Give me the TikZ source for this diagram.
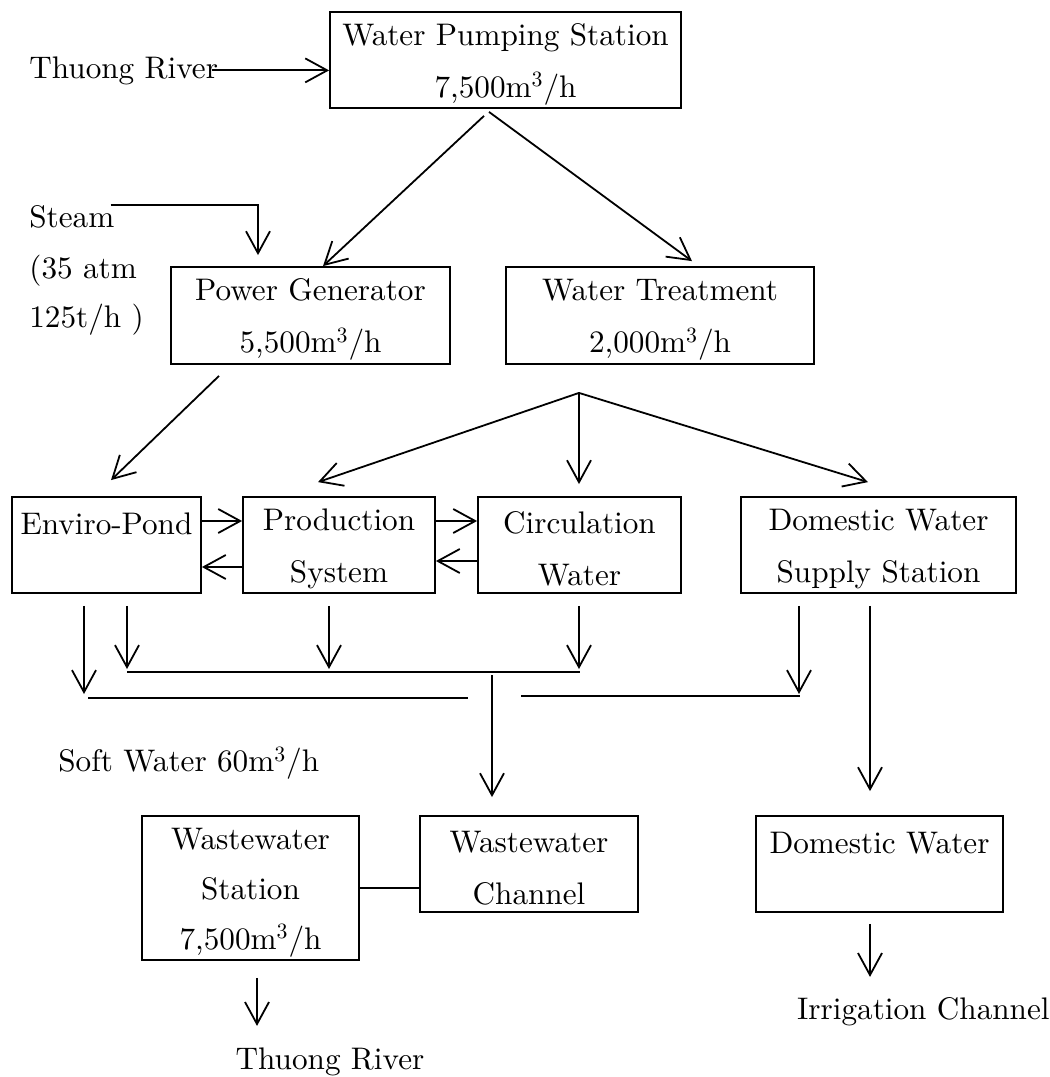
\documentclass[tikz,border=0pt]{standalone}
\usepackage{fontspec}
\setmainfont{lmroman10-regular.otf}
\usetikzlibrary{arrows.meta,calc}
% extra room above the first line of a box
\newcommand\firstline{\rule{0pt}{15pt}}
\begin{document}
\begin{tikzpicture}[x=0.5pt,y=-0.5pt,
  every node/.style={font=\fontsize{15.6}{26}\selectfont},
  box/.style={draw, line width=0.9pt, align=center, inner sep=0pt},
  lbl/.style={inner sep=0pt},
  arr/.style={line width=0.9pt, -{Straight Barb[length=11pt,width=12pt]}},
  wire/.style={line width=0.9pt}]
\fill[white] (0,0) rectangle (1050,1077);
\useasboundingbox (0,0) rectangle (1050,1077);

% process boxes
\node[box, minimum width=175.5pt, minimum height=48pt] (pump) at (505.5,60)
  {\firstline Water Pumping Station\\7,500m\textsuperscript{3}/h};
\node[box, minimum width=139.5pt, minimum height=48.5pt] (pg) at (310.5,315.5)
  {\firstline Power Generator\\5,500m\textsuperscript{3}/h};
\node[box, minimum width=154pt, minimum height=48.5pt] (wt) at (660,315.5)
  {\firstline Water Treatment\\2,000m\textsuperscript{3}/h};
\node[box, minimum width=94.5pt, minimum height=48pt] (env) at (106.5,545)
  {\firstline Enviro-Pond\\\mbox{}};
\node[box, minimum width=96pt, minimum height=48pt] (prod) at (339,545)
  {\firstline Production\\System};
\node[box, minimum width=101.5pt, minimum height=48pt] (circ) at (579.5,545)
  {\firstline Circulation\\Water};
\node[box, minimum width=137.5pt, minimum height=48pt] (dom) at (878.5,545)
  {\firstline Domestic Water\\Supply Station};
\node[box, minimum width=108.5pt, minimum height=72pt] (ws) at (250.5,888)
  {\firstline Wastewater\\[-1pt]Station\\[-1pt]7,500m\textsuperscript{3}/h};
\node[box, minimum width=109pt, minimum height=48pt] (wc) at (529,864)
  {\firstline Wastewater\\Channel};
\node[box, minimum width=123.5pt, minimum height=48pt] (dw) at (879.5,864)
  {\firstline Domestic Water\\\mbox{}};

% free labels
\node[lbl, anchor=base west] (river) at (29,78) {Thuong River};
\node[lbl, anchor=base west] (steam) at (29,227) {Steam};
\node[lbl, anchor=base west] (atm) at (29,278) {(35 atm};
\node[lbl, anchor=base west] (rate) at (29,327) {125t/h )};
\node[lbl, anchor=west] (soft) at (58,763) {Soft Water 60m\textsuperscript{3}/h};
\node[lbl] (riverout) at (330,1062) {Thuong River};
\node[lbl, anchor=east] (irr) at (1050,1012) {Irrigation Channel};

% intake and steam supply
\draw[arr] ([xshift=-3pt]river.east) -- (river.east -| pump.west);
\coordinate (steamin) at ($(pg.north)+(-52.5,-11)$);
\draw[arr] ([xshift=-2pt]steam.north east) -| (steamin);

% split at the pumping station
\draw[arr] ($(pump.south)+(-21.5,7)$) -- ($(pg.north)+(12.5,0)$);
\draw[arr] ($(pump.south)+(-16.5,3)$) -- ($(wt.north)+(32,-5)$);
\draw[arr] ($(pg.south)+(-91.5,11)$) -- ($(env.north)+(4.5,-16)$);

% distribution from water treatment
\coordinate (fan) at ($(wt.south)+(-81,28)$);
\draw[arr] (fan) -- ($(prod.north)+(-21,-14)$);
\draw[arr] (fan) -- ($(circ.north)+(-0.5,-12)$);
\draw[arr] (fan) -- ($(dom.north)+(-10.5,-14)$);

% exchanges within the middle row
\draw[arr] ($(env.east)+(0,-24)$) -- ($(prod.west)+(0,-24)$);
\draw[arr] ($(prod.east)+(0,-24)$) -- ($(circ.west)+(0,-24)$);
\draw[arr] ($(circ.west)+(0,16)$) -- ($(prod.east)+(0,16)$);
\draw[arr] ($(prod.west)+(0,22)$) -- ($(env.east)+(0,22)$);

% collecting lines
\coordinate (busAl) at (127,672);
\coordinate (busAr) at (580,672);
\coordinate (busBl) at (88,698);
\coordinate (busBm) at (468,698);
\coordinate (busCl) at (521,696);
\coordinate (busCr) at (800,696);
\draw[wire] (busAl) -- (busAr);
\draw[wire] (busBl) -- (busBm);
\draw[wire] (busCl) -- (busCr);

\draw[arr] ($(env.south)+(-22.5,12)$) -- ($(busBl)+(-4,-4)$);
\draw[arr] ($(env.south)+(20.5,12)$) -- ($(busAl)+(0,-3)$);
\draw[arr] ($(prod.south)+(-10,12)$) -- ($(busAl)+(202,-3)$);
\draw[arr] ($(circ.south)+(-0.5,12)$) -- ($(busAr)+(-1,-3)$);
\draw[arr] ($(dom.south)+(-79.5,12)$) -- ($(busCr)+(-1,-2)$);
\draw[arr] ($(dom.south)+(-8.5,12)$) -- ($(dw.north)+(-9.5,-24)$);

\coordinate (drain) at (492,675);
\draw[arr] (drain) -- ($(wc.north)+(-37,-18)$);

% outlets
\draw[wire] (ws.east) -- (ws.east -| wc.west);
\coordinate (wsout) at ($(ws.south)+(6.5,65)$);
\draw[arr] ($(ws.south)+(6.5,17)$) -- (wsout);
\coordinate (dwout) at ($(dw.south)+(-9.5,64)$);
\draw[arr] ($(dw.south)+(-9.5,11)$) -- (dwout);
\end{tikzpicture}
\end{document}
